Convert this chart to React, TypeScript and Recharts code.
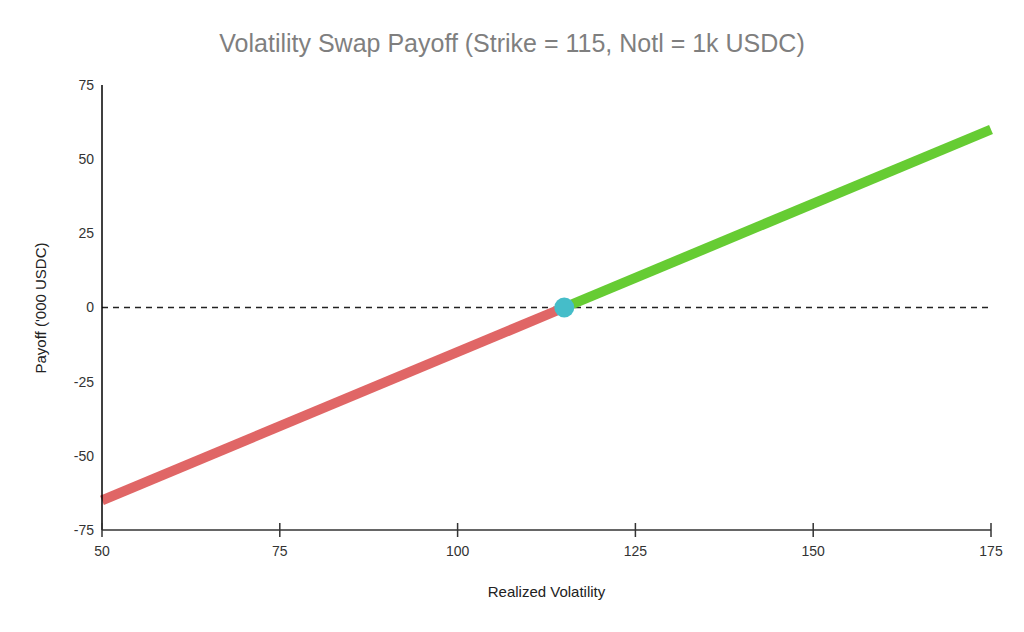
import {
  ComposedChart,
  Line,
  Scatter,
  XAxis,
  YAxis,
  ReferenceLine,
} from "recharts";

const lossSeries = [
  { x: 50, y: -65 },
  { x: 115, y: 0 },
];

const gainSeries = [
  { x: 115, y: 0 },
  { x: 175, y: 60 },
];

const strikePoint = [{ x: 115, y: 0 }];

const xTicks = [50, 75, 100, 125, 150, 175];
const yTicks = [-75, -50, -25, 0, 25, 50, 75];

const font = "'Liberation Sans', Arial, sans-serif";
const tickStyle = { fill: "#333333", fontSize: 14, fontFamily: font };

const X_TICK_SIZE = 8;
const X_TICK_MARGIN = 8;

function StrikeDot(props: { cx?: number; cy?: number }) {
  const { cx = 0, cy = 0 } = props;
  return <circle cx={cx} cy={cy} r={10} fill="#45bdc9" />;
}

// x ticks cross the axis line (inside + outside), so draw them here
function XTick(props: { x?: number; y?: number; payload?: { value: number } }) {
  const { x = 0, y = 0, payload } = props;
  const axisY = y - X_TICK_SIZE - X_TICK_MARGIN;
  return (
    <g>
      <line x1={x} x2={x} y1={axisY - 7} y2={axisY + 7} stroke="#333333" strokeWidth={1.5} />
      <text
        x={x}
        y={y}
        dy="0.71em"
        textAnchor="middle"
        fill="#333333"
        fontSize={14}
        fontFamily={font}
      >
        {payload?.value}
      </text>
    </g>
  );
}

export default function App() {
  return (
    <div
      style={{
        position: "fixed",
        left: 0,
        top: 0,
        width: 1024,
        height: 632,
        background: "#ffffff",
        fontFamily: font,
      }}
    >
      <div
        style={{
          position: "absolute",
          top: 29,
          left: 0,
          width: 1024,
          textAlign: "center",
          fontSize: 25,
          color: "#7f7f7f",
        }}
      >
        Volatility Swap Payoff (Strike = 115, Notl = 1k USDC)
      </div>
      <ComposedChart
        width={1024}
        height={632}
        margin={{ top: 85, right: 33, bottom: 72, left: 42 }}
      >
        <XAxis
          type="number"
          dataKey="x"
          domain={[50, 175]}
          ticks={xTicks}
          stroke="#333333"
          strokeWidth={1.5}
          tickLine={false}
          tickSize={X_TICK_SIZE}
          tickMargin={X_TICK_MARGIN}
          tick={<XTick />}
          height={30}
        />
        <YAxis
          type="number"
          dataKey="y"
          domain={[-75, 75]}
          ticks={yTicks}
          stroke="#000000"
          strokeWidth={1.5}
          tickLine={false}
          tick={tickStyle}
          width={60}
        />
        <ReferenceLine y={0} stroke="#222222" strokeDasharray="6 5" strokeWidth={1.5} />
        <Line
          data={lossSeries}
          dataKey="y"
          type="linear"
          stroke="#e06666"
          strokeWidth={10}
          dot={false}
          activeDot={false}
          isAnimationActive={false}
        />
        <Line
          data={gainSeries}
          dataKey="y"
          type="linear"
          stroke="#66cc33"
          strokeWidth={10}
          dot={false}
          activeDot={false}
          isAnimationActive={false}
        />
        <Scatter
          data={strikePoint}
          dataKey="y"
          shape={<StrikeDot />}
          isAnimationActive={false}
        />
      </ComposedChart>
      <div
        style={{
          position: "absolute",
          top: 583,
          left: 102,
          width: 889,
          textAlign: "center",
          fontSize: 15,
          color: "#222222",
        }}
      >
        Realized Volatility
      </div>
      <div
        style={{
          position: "absolute",
          left: 40,
          top: 308,
          transform: "translate(-50%, -50%) rotate(-90deg)",
          whiteSpace: "nowrap",
          fontSize: 15,
          color: "#222222",
        }}
      >
        Payoff ('000 USDC)
      </div>
    </div>
  );
}
